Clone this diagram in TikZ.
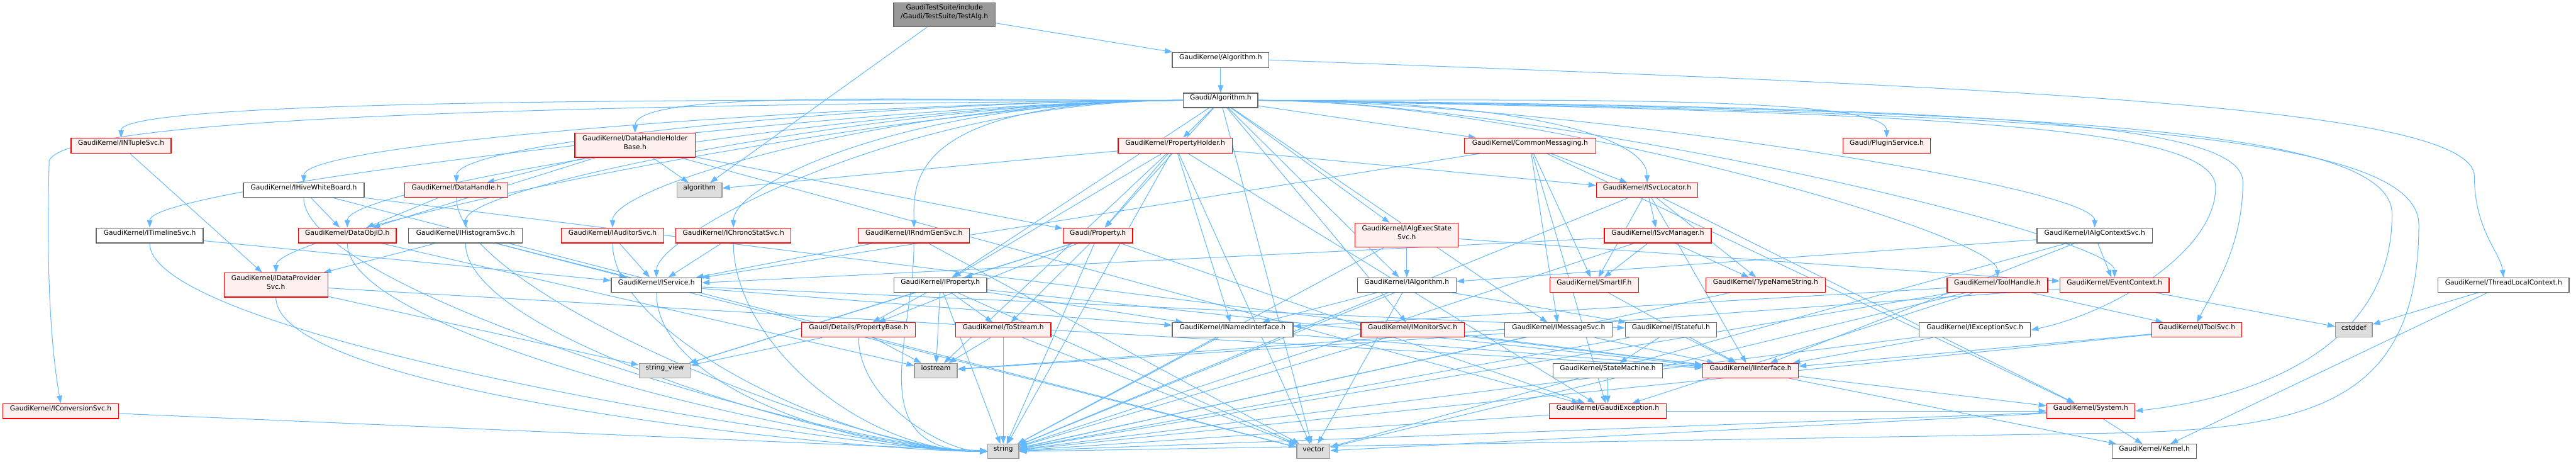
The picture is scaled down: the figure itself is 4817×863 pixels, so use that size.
\documentclass[tikz,border=0pt]{standalone}
\usepackage{fontspec}
\usetikzlibrary{arrows.meta,fit}
\newfontfamily\dfont{DejaVu Sans}
\definecolor{edgeblue}{HTML}{63B8FF}
\definecolor{redfill}{HTML}{FFF0F0}
\definecolor{gfour}{HTML}{666666}
\definecolor{gsix}{HTML}{999999}
\definecolor{geight}{HTML}{DEDEDE}
\definecolor{nodered}{HTML}{FF0000}
\pgfdeclarelayer{background}
\pgfsetlayers{background,main}
\tikzset{
  nbase/.style={draw, line width=0.75pt, inner sep=0pt, text=black, font=\dfont\fontsize{6.3}{8}\selectfont, align=center},
  redbox/.style={nbase, draw=nodered, fill=redfill},
  plainbox/.style={nbase, draw=gfour, fill=white},
  extbox/.style={nbase, draw=gsix, fill=geight},
  rootbox/.style={nbase, draw=gfour, fill=gsix, align=left},
  edge/.style={draw=edgeblue, line width=0.6pt, -{Triangle[length=7pt,width=5pt]}},
  leftcurve/.style={out=180, in=90, out distance=260pt, in distance=40pt},
  rightcurve/.style={out=0, in=90, out distance=260pt, in distance=40pt},
  strcurve/.style={out=-90, in=180, out distance=90pt, in distance=120pt},
}
\newcommand\edg[2]{\draw[edge] (#1) -- (#2);}
\begin{document}
\begin{tikzpicture}[x=0.5pt,y=-0.5pt]
\useasboundingbox (0,0) rectangle (4817,863);
% row 1-3
\node[rootbox, fit={(1671,5)(1861,50)}] (TA) {GaudiTestSuite/include\\/Gaudi/TestSuite/TestAlg.h};
\node[plainbox, fit={(2192,98)(2373,126)}] (GKA) {GaudiKernel/Algorithm.h};
\node[plainbox, fit={(2213,174)(2352,201)}] (GA) {Gaudi/Algorithm.h};
% row 4
\node[redbox, fit={(133,258)(320,286)}] (INTuple) {GaudiKernel/INTupleSvc.h};
\node[redbox, fit={(1075,249)(1300,294)}] (DHHB) {GaudiKernel/DataHandleHolder\\Base.h};
\node[redbox, fit={(2091,258)(2304,286)}] (PH) {GaudiKernel/PropertyHolder.h};
\node[redbox, fit={(2738,258)(2984,286)}] (CM) {GaudiKernel/CommonMessaging.h};
\node[redbox, fit={(3446,258)(3610,286)}] (PS) {Gaudi/PluginService.h};
% row 5
\node[plainbox, fit={(455,342)(681,369)}] (IHWB) {GaudiKernel/IHiveWhiteBoard.h};
\node[redbox, fit={(757,342)(950,369)}] (DH) {GaudiKernel/DataHandle.h};
\node[extbox, fit={(1266,342)(1350,369)}] (algo) {algorithm};
\node[redbox, fit={(2985,342)(3175,369)}] (ISL) {GaudiKernel/ISvcLocator.h};
% row 6
\node[plainbox, fit={(180,426)(380,454)}] (ITL) {GaudiKernel/ITimelineSvc.h};
\node[redbox, fit={(558,426)(741,454)}] (DOID) {GaudiKernel/DataObjID.h};
\node[plainbox, fit={(764,426)(977,454)}] (IHS) {GaudiKernel/IHistogramSvc.h};
\node[redbox, fit={(1050,426)(1241,454)}] (IAud) {GaudiKernel/IAuditorSvc.h};
\node[redbox, fit={(1264,426)(1479,454)}] (ICS) {GaudiKernel/IChronoStatSvc.h};
\node[redbox, fit={(1605,426)(1813,454)}] (IRG) {GaudiKernel/IRndmGenSvc.h};
\node[redbox, fit={(1988,426)(2118,454)}] (Prop) {Gaudi/Property.h};
\node[redbox, fit={(2534,417)(2727,462)}] (IAES) {GaudiKernel/IAlgExecState\\Svc.h};
\node[redbox, fit={(3000,426)(3200,454)}] (ISM) {GaudiKernel/ISvcManager.h};
\node[plainbox, fit={(3809,426)(4025,454)}] (IACS) {GaudiKernel/IAlgContextSvc.h};
% row 7
\node[redbox, fit={(419,510)(613,555)}] (IDPS) {GaudiKernel/IDataProvider\\Svc.h};
\node[plainbox, fit={(1143,519)(1312,546)}] (ISvc) {GaudiKernel/IService.h};
\node[plainbox, fit={(1672,519)(1845,546)}] (IProp) {GaudiKernel/IProperty.h};
\node[plainbox, fit={(2538,519)(2723,546)}] (IAlg) {GaudiKernel/IAlgorithm.h};
\node[redbox, fit={(2898,519)(3064,546)}] (SIF) {GaudiKernel/SmartIF.h};
\node[redbox, fit={(3190,519)(3413,546)}] (TNS) {GaudiKernel/TypeNameString.h};
\node[redbox, fit={(3641,519)(3829,546)}] (TH) {GaudiKernel/ToolHandle.h};
\node[redbox, fit={(3852,519)(4056,546)}] (EC) {GaudiKernel/EventContext.h};
\node[plainbox, fit={(4559,519)(4804,546)}] (TLC) {GaudiKernel/ThreadLocalContext.h};
% row 8
\node[redbox, fit={(1499,603)(1712,630)}] (PB) {Gaudi/Details/PropertyBase.h};
\node[redbox, fit={(1787,603)(1965,630)}] (TS) {GaudiKernel/ToStream.h};
\node[plainbox, fit={(2192,603)(2418,630)}] (INI) {GaudiKernel/INamedInterface.h};
\node[redbox, fit={(2545,603)(2738,630)}] (IMon) {GaudiKernel/IMonitorSvc.h};
\node[plainbox, fit={(2814,603)(3015,630)}] (IMsg) {GaudiKernel/IMessageSvc.h};
\node[plainbox, fit={(3039,603)(3210,630)}] (ISt) {GaudiKernel/IStateful.h};
\node[plainbox, fit={(3589,603)(3797,630)}] (IES) {GaudiKernel/IExceptionSvc.h};
\node[redbox, fit={(4024,603)(4192,630)}] (ITS) {GaudiKernel/IToolSvc.h};
\node[extbox, fit={(4367,603)(4436,630)}] (cstd) {cstddef};
% row 9
\node[extbox, fit={(1195,679)(1291,706)}] (sv) {string\_view};
\node[extbox, fit={(1710,679)(1790,706)}] (ios) {iostream};
\node[plainbox, fit={(2904,679)(3109,706)}] (SM) {GaudiKernel/StateMachine.h};
\node[redbox, fit={(3184,679)(3363,706)}] (II) {GaudiKernel/IInterface.h};
% row 10
\node[redbox, fit={(5,754)(222,782)}] (ICS2) {GaudiKernel/IConversionSvc.h};
\node[redbox, fit={(2897,754)(3116,782)}] (GE) {GaudiKernel/GaudiException.h};
\node[redbox, fit={(3827,754)(3992,782)}] (Sys) {GaudiKernel/System.h};
% row 11
\node[extbox, fit={(1847,830)(1905,857)}] (str) {string};
\node[extbox, fit={(2425,830)(2487,857)}] (vec) {vector};
\node[plainbox, fit={(3950,830)(4107,857)}] (Kern) {GaudiKernel/Kernel.h};

\begin{pgfonlayer}{background}
\edg{TA}{GKA}
\edg{TA}{algo}
\edg{GKA}{GA}
\draw[edge] (GKA.east) .. controls (3800,165) and (4627,200) .. (4627,330) .. controls (4627,430) and (4675,470) .. (TLC.north);
% Gaudi/Algorithm.h : far-left targets
\foreach \t in {INTuple,ITL,IDPS,IHWB,DOID,DH,DHHB,IHS,IAud,ICS,IRG,ISvc}{\draw[edge] (GA) to[leftcurve] (\t);}
% near targets
\foreach \t in {PH,Prop,IProp,CM,IAES,IAlg,IMon,IMsg,vec}{\draw[edge] (GA) -- (\t);}
% far-right targets
\foreach \t in {ISL,PS,IACS,TH,EC}{\draw[edge] (GA) to[rightcurve] (\t);}
\draw[edge] (GA.west) .. controls (1200,196) and (130,212) .. (92,300) .. controls (86,500) and (95,650) .. (ICS2.north);
\draw[edge] (GA.east) .. controls (3600,200) and (4194,220) .. (4194,340) .. controls (4194,460) and (4140,540) .. (ITS.north);
\draw[edge] (GA.east) .. controls (3600,210) and (4143,232) .. (4143,350) .. controls (4143,470) and (3950,585) .. (IES.east);
\draw[edge] (GA.east) .. controls (3800,205) and (4473,235) .. (4473,400) .. controls (4473,660) and (4200,745) .. (Sys.east);
\draw[edge] (GA.east) .. controls (3850,210) and (4523,245) .. (4523,420) .. controls (4523,770) and (4300,805) .. (3900,810) -- (str.east);
% PropertyHolder
\foreach \t in {algo,Prop,IProp,ISL,INI,str,vec,GE,ios}{\draw[edge] (PH) -- (\t);}
\foreach \t in {DH,algo,DOID,Prop,GE}{\draw[edge] (DHHB) -- (\t);}
\edg{DH}{DOID}
\foreach \t in {DOID,II,vec}{\draw[edge] (IHWB) -- (\t);}
\edg{DOID}{ios}
\edg{INTuple}{IDPS}
\edg{ITL}{ISvc}
\foreach \t in {IDPS,ISvc,vec}{\draw[edge] (IHS) -- (\t);}
\edg{IAud}{ISvc}
\edg{ICS}{ISvc}
\foreach \t in {ISvc,vec}{\draw[edge] (IRG) -- (\t);}
\foreach \t in {II,sv}{\draw[edge] (IDPS) -- (\t);}
% edges into string from the left, curving in
\foreach \s in {ITL,IHWB,DH,DOID,IHS,IAud,ICS,IRG,IDPS,ISvc}{\draw[edge] (\s) to[strcurve] (str);}
\draw[edge] (PB) to[out=-90,in=180,out distance=60pt,in distance=40pt] (str);
\edg{ICS2}{str}
\foreach \t in {PB,IProp,TS,str,sv,GE}{\draw[edge] (Prop) -- (\t);}
\foreach \t in {PB,ios,TS,INI,II,str,vec,sv}{\draw[edge] (IProp) -- (\t);}
\foreach \t in {sv,ios}{\draw[edge] (PB) -- (\t);}
\foreach \t in {ios,str,vec}{\draw[edge] (TS) -- (\t);}
\foreach \t in {II,str}{\draw[edge] (INI) -- (\t);}
\foreach \t in {ISvc,IMsg,SIF,ISL,GE,Sys}{\draw[edge] (CM) -- (\t);}
\foreach \t in {SIF,ISM,TNS,II,str,Sys}{\draw[edge] (ISL) -- (\t);}
\foreach \t in {SIF,TNS,ISvc,str}{\draw[edge] (ISM) -- (\t);}
\foreach \t in {IAlg,EC,str}{\draw[edge] (IAES) -- (\t);}
\foreach \t in {INI,ISt,str,vec}{\draw[edge] (IAlg) -- (\t);}
\edg{SIF}{II}
\edg{TNS}{str}
\foreach \t in {II,str}{\draw[edge] (IMon) -- (\t);}
\foreach \t in {II,ios,str}{\draw[edge] (IMsg) -- (\t);}
\foreach \t in {SM,II,str}{\draw[edge] (ISt) -- (\t);}
\edg{SM}{GE}
\foreach \t in {Sys,Kern}{\draw[edge] (II) -- (\t);}
\foreach \t in {str,Sys}{\draw[edge] (GE) -- (\t);}
\foreach \t in {Kern,str,vec}{\draw[edge] (Sys) -- (\t);}
\foreach \t in {II,str}{\draw[edge] (IES) -- (\t);}
\foreach \t in {II,str}{\draw[edge] (ITS) -- (\t);}
\foreach \t in {ITS,INI,GE,str,vec}{\draw[edge] (TH) -- (\t);}
\foreach \t in {cstd,ios}{\draw[edge] (EC) -- (\t);}
\foreach \t in {IAlg,EC,II,vec}{\draw[edge] (IACS) -- (\t);}
\foreach \t in {cstd,Kern}{\draw[edge] (TLC) -- (\t);}
\foreach \t in {INI,ISt}{\draw[edge] (ISvc) -- (\t);}
\end{pgfonlayer}
\end{tikzpicture}
\end{document}
